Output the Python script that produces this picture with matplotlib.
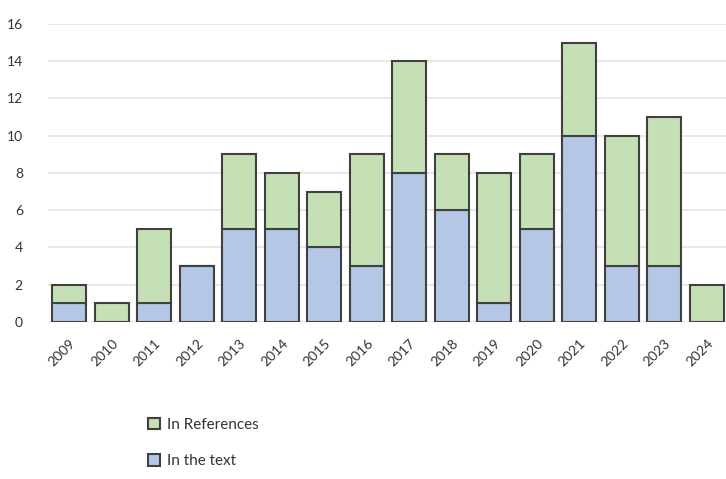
import numpy as np
import matplotlib
matplotlib.use("Agg")
import matplotlib.pyplot as plt

# ======== DATOS ========
years = ["2009", "2010", "2011", "2012", "2013", "2014", "2015", "2016",
         "2017", "2018", "2019", "2020", "2021", "2022", "2023", "2024"]
in_text = [1, 0, 1, 3, 5, 5, 4, 3, 8, 6, 1, 5, 10, 3, 3, 0]
in_refs = [1, 1, 4, 0, 4, 3, 3, 6, 6, 3, 7, 4, 5, 7, 8, 2]

BLUE = "#b4c7e7"
GREEN = "#c5e0b4"
EDGE = "#404040"

plt.rcParams['font.family'] = ['Lato', 'DejaVu Sans']

fig = plt.figure(figsize=(7.26, 4.79), dpi=100)
ax = fig.add_axes([0.066, 0.328, 0.934, 0.622])

x = np.arange(len(years))
ax.bar(x, in_text, width=0.8, color=BLUE, edgecolor=EDGE, linewidth=1.5,
       label="In the text", zorder=3)
ax.bar(x, in_refs, width=0.8, bottom=in_text, color=GREEN, edgecolor=EDGE,
       linewidth=1.5, label="In References", zorder=3)

ax.set_xlim(-0.5, 15.45)
ax.set_ylim(0, 16)
ax.set_yticks(range(0, 17, 2))
ax.yaxis.grid(True, color="#e4e4e4", linewidth=1.2, zorder=0)
ax.set_xticks(x)
ax.set_xticklabels(years, rotation=45, ha="right", rotation_mode="anchor",
                   fontsize=10, color="#333333")
ax.tick_params(axis="y", labelsize=10, labelcolor="#333333", length=0, pad=18)
ax.tick_params(axis="x", length=0, pad=11)
for s in ax.spines.values():
    s.set_visible(False)

# leyenda vertical abajo
h, l = ax.get_legend_handles_labels()
leg = fig.legend(h[::-1], l[::-1], loc="upper left", bbox_to_anchor=(0.185, 0.157),
                 frameon=False, fontsize=11, handlelength=0.8, handleheight=0.8,
                 labelspacing=1.45, handletextpad=0.45)
for t in leg.get_texts():
    t.set_color("#333333")

fig.savefig("out.png", dpi=100)
